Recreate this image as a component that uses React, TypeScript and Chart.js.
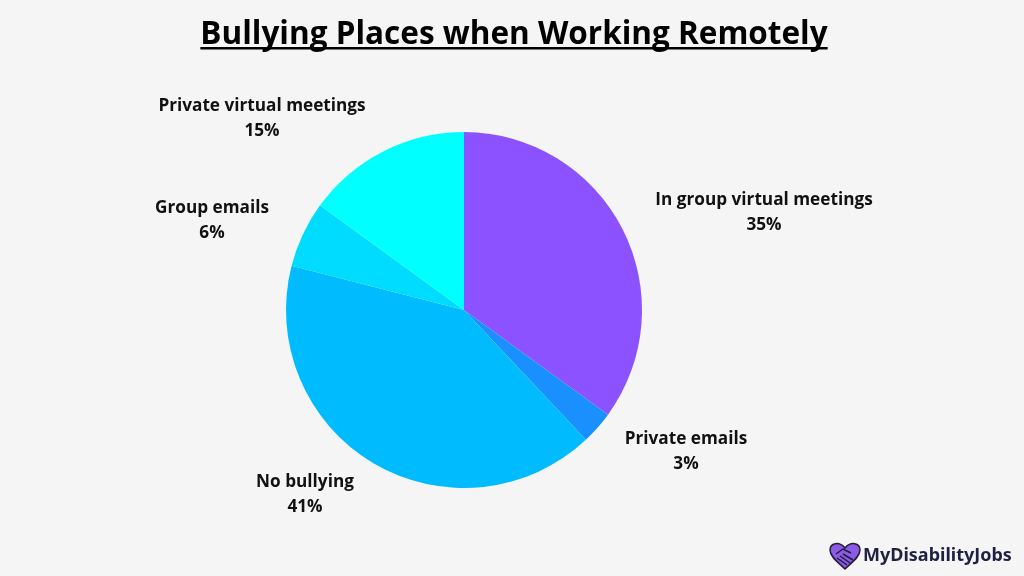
import React, { useEffect, useRef } from "react";
import { Chart, registerables } from "chart.js";

Chart.register(...registerables);

const TITLE = "Bullying Places when Working Remotely";
const categories = [
  "In group virtual meetings",
  "Private emails",
  "No bullying",
  "Group emails",
  "Private virtual meetings",
];
const values = [35, 3, 41, 6, 15];
const sliceColors = ["#8c52ff", "#1a90ff", "#00bcff", "#00dcff", "#00ffff"];
// label offsets from pie centre (first line centre)
const labelOffsets: [number, number][] = [
  [300, -110],
  [222, 129],
  [-159, 172],
  [-252, -102],
  [-202, -204],
];

const overlayPlugin = {
  id: "overlay",
  afterDraw(chart: any) {
    const ctx = chart.ctx as CanvasRenderingContext2D;
    ctx.save();
    // title
    ctx.fillStyle = "#000000";
    ctx.font = "bold 31.5px 'Open Sans'";
    ctx.textAlign = "center";
    ctx.textBaseline = "alphabetic";
    const tx = 514;
    const ty = 44;
    ctx.fillText(TITLE, tx, ty);
    const tw = ctx.measureText(TITLE).width;
    ctx.fillRect(tx - tw / 2, ty + 3, tw, 2.5);

    // labels
    const meta = chart.getDatasetMeta(0);
    const arc0 = meta.data[0];
    const cx = arc0.x;
    const cy = arc0.y;
    ctx.font = "bold 17.2px 'Open Sans'";
    ctx.fillStyle = "#111111";
    ctx.textBaseline = "middle";
    meta.data.forEach((_: any, i: number) => {
      const [dx, dy] = labelOffsets[i];
      ctx.fillText(categories[i], cx + dx, cy + dy);
      ctx.fillText(values[i] + "%", cx + dx, cy + dy + 25);
    });

    // logo
    const hx = 845;
    const hy = 556;
    ctx.fillStyle = "#8c5ae6";
    ctx.strokeStyle = "#1f1d3a";
    ctx.lineWidth = 1.5;
    ctx.beginPath();
    ctx.moveTo(hx, hy + 13);
    ctx.bezierCurveTo(hx - 6, hy + 7, hx - 15, hy + 1, hx - 15, hy - 6);
    ctx.bezierCurveTo(hx - 15, hy - 13, hx - 6, hy - 15, hx, hy - 8);
    ctx.bezierCurveTo(hx + 6, hy - 15, hx + 15, hy - 13, hx + 15, hy - 6);
    ctx.bezierCurveTo(hx + 15, hy + 1, hx + 6, hy + 7, hx, hy + 13);
    ctx.closePath();
    ctx.fill();
    ctx.stroke();
    ctx.beginPath();
    ctx.moveTo(hx - 9, hy - 2);
    ctx.lineTo(hx - 2, hy - 7);
    ctx.lineTo(hx + 6, hy - 3);
    ctx.moveTo(hx - 8, hy + 2);
    ctx.lineTo(hx + 2, hy + 9);
    ctx.moveTo(hx - 5, hy);
    ctx.lineTo(hx + 5, hy + 7);
    ctx.moveTo(hx - 2, hy - 2);
    ctx.lineTo(hx + 8, hy + 4);
    ctx.stroke();
    ctx.fillStyle = "#1f2142";
    ctx.font = "bold 18px 'Noto Sans'";
    ctx.textAlign = "left";
    ctx.textBaseline = "middle";
    ctx.fillText("MyDisabilityJobs", 863, 556);
    ctx.restore();
  },
};

export default function App() {
  const ref = useRef<HTMLCanvasElement>(null);
  useEffect(() => {
    document.body.style.margin = "0";
    document.body.style.background = "#f5f5f5";
    const chart = new Chart(ref.current!, {
      type: "pie",
      data: {
        labels: categories,
        datasets: [
          {
            data: values,
            backgroundColor: sliceColors,
            borderWidth: 0,
          },
        ],
      },
      options: {
        animation: false,
        responsive: false,
        layout: { padding: { top: 132, bottom: 88, left: 0, right: 96 } },
        plugins: {
          legend: { display: false },
          tooltip: { enabled: false },
          title: { display: false },
        },
      },
      plugins: [overlayPlugin],
    });
    return () => chart.destroy();
  }, []);
  return (
    <div style={{ width: 1024, height: 576, background: "#f5f5f5" }}>
      <canvas ref={ref} width={1024} height={576} style={{ display: "block" }} />
    </div>
  );
}
